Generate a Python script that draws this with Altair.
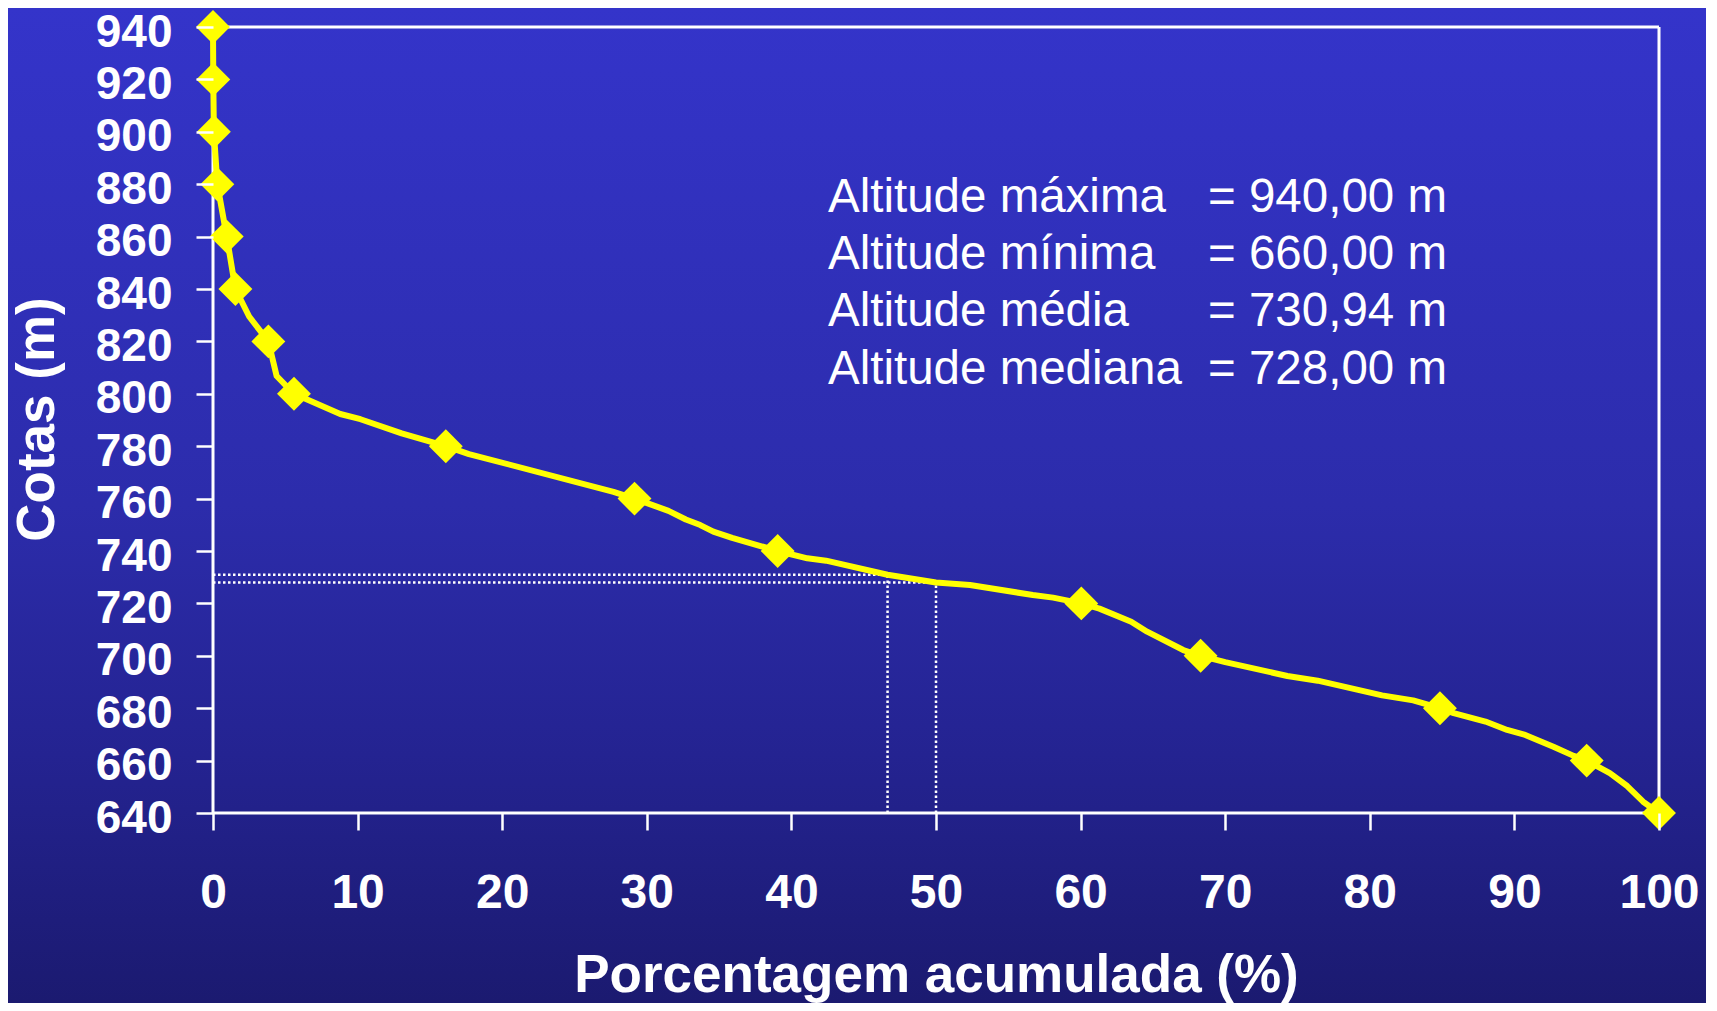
import altair as alt
import pandas as pd

# ---- data ----
curve_pct = [0, 0.02, 0.06, 0.3, 0.95, 1.55, 2.5, 3.83, 4.4, 5.6, 8.8, 10.2, 13.05, 16.1, 17.7,
             27.7, 29.15, 31.5, 32.7, 33.7, 34.6, 35.9, 39.05, 41.1, 42.4, 46.65, 50.0, 52.35,
             56.7, 58.1, 60.05, 61.3, 63.5, 64.6, 67.1, 68.3, 70.0, 74.3, 76.4, 80.85, 83.0,
             84.85, 85.8, 88.0, 89.5, 90.75, 92.7, 94.1, 95.0, 96.6, 97.8, 98.9, 100]
curve_cota = [940, 920, 900, 880, 860, 840, 829.5, 820, 806.8, 800, 792.3, 790.3, 784.9, 780, 777,
              762.6, 760, 755.3, 752, 749.9, 747.4, 745, 740, 737.2, 736.3, 730.94, 728.0, 727.0,
              723.2, 722.2, 720, 718, 713, 709.2, 702.2, 700, 697.6, 692.3, 690.5, 684.9, 683,
              680, 678.1, 674.9, 671.7, 669.8, 665.3, 661.8, 660, 655.2, 650.3, 644.3, 640]

marker_cota = [940, 920, 900, 880, 860, 840, 820, 800, 780, 760, 740, 720, 700, 680, 660, 640]
marker_pct = [0, 0.02, 0.06, 0.3, 0.95, 1.55, 3.83, 5.6, 16.1, 29.15, 39.05, 60.05, 68.3, 84.85, 95.0, 100]

mean_alt = 730.94
mean_pct = 46.65
median_alt = 728.0
median_pct = 50.0

stat_labels = ["Altitude máxima", "Altitude mínima", "Altitude média", "Altitude mediana"]
stat_values = ["= 940,00 m", "= 660,00 m", "= 730,94 m", "= 728,00 m"]

x_ticks = list(range(0, 101, 10))
y_ticks = list(range(640, 941, 20))

# ---- layout ----
W, H = 1446, 786
FONT = "Liberation Sans"
YELLOW = "#FFFF00"

x_scale = alt.Scale(domain=[0, 100], nice=False, zero=False)
y_scale = alt.Scale(domain=[640, 940], nice=False, zero=False)

curve_df = pd.DataFrame({"x": curve_pct, "y": curve_cota})
marker_df = pd.DataFrame({"x": marker_pct, "y": marker_cota})
frame_df = pd.DataFrame({"x": [0, 0, 0, 100], "x2": [100, 100, 0, 100],
                         "y": [940, 640, 640, 640], "y2": [940, 640, 940, 940]})
ref_df = pd.DataFrame({"x": [0, mean_pct, 0, median_pct],
                       "x2": [mean_pct, mean_pct, median_pct, median_pct],
                       "y": [mean_alt, 640, median_alt, 640],
                       "y2": [mean_alt, mean_alt, median_alt, median_alt]})

gradient = alt.LinearGradient(
    gradient="linear",
    stops=[alt.GradientStop(color="#3434ca", offset=0),
           alt.GradientStop(color="#2c2cab", offset=0.5),
           alt.GradientStop(color="#242391", offset=0.75),
           alt.GradientStop(color="#1b1a70", offset=1)],
    x1=0, x2=0, y1=0, y2=1,
)

x_axis = alt.Axis(
    values=x_ticks, domain=False, grid=False, tickSize=17, tickWidth=2.5, tickColor="white",
    labelColor="white", labelFont=FONT, labelFontWeight="bold", labelFontSize=48,
    labelPadding=39, labelFlush=False, labelOverlap=False,
    title="Porcentagem acumulada (%)", titleColor="white", titleFont=FONT,
    titleFontWeight="bold", titleFontSize=53, titleBaseline="alphabetic", titleY=178,
    zindex=1,
)
y_axis = alt.Axis(
    values=y_ticks, domain=False, grid=False, tickSize=17, tickWidth=2.5, tickColor="white",
    labelColor="white", labelFont=FONT, labelFontWeight="bold", labelFontSize=46,
    labelPadding=24, labelFlush=False, labelOverlap=False, labelBaseline="middle", labelOffset=5,
    title="Cotas (m)", titleColor="white", titleFont=FONT, titleFontWeight="bold",
    titleFontSize=53, titleAngle=270, titleBaseline="middle", titleAlign="center",
    titleX=-176, titleY=392, zindex=1,
)

X = alt.X("x:Q", scale=x_scale, axis=x_axis, title="Porcentagem acumulada (%)")
Y = alt.Y("y:Q", scale=y_scale, axis=y_axis, title="Cotas (m)")

bg = alt.Chart(alt.Data(values=[{}])).mark_rect(fill=gradient, strokeWidth=0).encode(
    x=alt.value(-205), x2=alt.value(W + 47), y=alt.value(-19), y2=alt.value(H + 190)
)

frame = alt.Chart(frame_df).mark_rule(color="white", strokeWidth=3).encode(
    x=X, x2="x2:Q", y=Y, y2="y2:Q",
)

refs = alt.Chart(ref_df).mark_rule(color="white", strokeWidth=2.5, strokeDash=[2.5, 2.5]).encode(
    x=X, x2="x2:Q", y=Y, y2="y2:Q",
)

line = alt.Chart(curve_df).mark_line(color=YELLOW, strokeWidth=6, strokeJoin="round").encode(
    x=X, y=Y, order="x:Q",
)

points = alt.Chart(marker_df).mark_point(shape="diamond", filled=True, size=1150,
                                          color=YELLOW, opacity=1).encode(x=X, y=Y)

txt_labels = alt.Chart(alt.Data(values=[{}])).mark_text(
    align="left", baseline="alphabetic", lineBreak="\n", lineHeight=57.2,
    font=FONT, fontSize=47.5, color="white",
).encode(x=alt.value(615), y=alt.value(185), text=alt.value("\n".join(stat_labels)))

txt_values = alt.Chart(alt.Data(values=[{}])).mark_text(
    align="left", baseline="alphabetic", lineBreak="\n", lineHeight=57.2,
    font=FONT, fontSize=47.5, color="white",
).encode(x=alt.value(995), y=alt.value(185), text=alt.value("\n".join(stat_values)))

chart = alt.layer(bg, frame, refs, line, points, txt_labels, txt_values).properties(
    width=W, height=H, padding=0, background="#2a2aa6",
    autosize=alt.AutoSizeParams(type="pad"),
).configure_view(stroke=None)

chart.save("out.html", embed_options={"renderer": "svg", "actions": False})
